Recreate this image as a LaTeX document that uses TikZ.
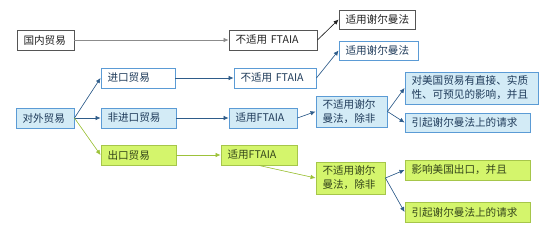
\documentclass[tikz,border=0pt]{standalone}
\usepackage{fontspec}
\setmainfont{Noto Sans CJK SC}
\usetikzlibrary{arrows.meta}
\definecolor{bborder}{HTML}{5B9BD5}
\definecolor{bfill}{HTML}{D3EBF6}
\definecolor{btext}{HTML}{1F3B5A}
\definecolor{gfill}{HTML}{D4F56C}
\definecolor{gborder}{HTML}{A6C64A}
\definecolor{gtext}{HTML}{34451A}
\definecolor{wborder}{HTML}{555555}
\definecolor{wtext}{HTML}{222222}
\definecolor{barrow}{HTML}{2E5C8A}
\definecolor{garrow}{HTML}{9DC23A}
\definecolor{grayarrow}{HTML}{8C8C8C}
\tikzset{
  box/.style={draw, line width=0.9pt, inner xsep=6.5pt, inner ysep=0pt, align=left,
    font=\fontsize{10.6}{14}\selectfont},
  wbox/.style={box, draw=wborder, fill=white, text=wtext},
  bwbox/.style={box, draw=bborder, fill=white, text=btext},
  bbox/.style={box, draw=bborder, fill=bfill, text=btext},
  gbox/.style={box, draw=gborder, fill=gfill, text=gtext},
  conn/.style={line width=0.6pt, -{Latex[length=5pt,width=4.5pt]}},
  bconn/.style={conn, draw=barrow, fill=barrow},
  gconn/.style={conn, draw=garrow, fill=garrow},
}
% \bx{style}{name}{x1}{y1}{x2}{y2}{text}
\newcommand{\bx}[7]{%
  \pgfmathsetmacro{\cx}{(#3+#5)/2}%
  \pgfmathsetmacro{\cy}{(#4+#6)/2}%
  \pgfmathsetmacro{\ww}{#5-#3}%
  \pgfmathsetmacro{\hh}{#6-#4}%
  \pgfmathsetmacro{\tw}{#5-#3-13}%
  \node[#1, minimum width=\ww pt, minimum height=\hh pt, text width=\tw pt] (#2) at (\cx,\cy) {#7};%
}
\begin{document}
\begin{tikzpicture}[x=1pt,y=-1pt]
\useasboundingbox (0,0) rectangle (554,242);
\bx{wbox}{dom}{17}{30}{74}{50}{国内贸易}
\bx{wbox}{dnf}{229}{30}{317}{50}{不适用 FTAIA}
\bx{wbox}{dsh}{339}{10}{415}{29}{适用谢尔曼法}
\bx{bbox}{for}{16}{108}{74}{128}{对外贸易}
\bx{bwbox}{imp}{101}{68}{175}{88}{进口贸易}
\bx{bwbox}{inf}{234}{68}{316}{88}{不适用 FTAIA}
\bx{bwbox}{ish}{339}{41}{418}{60}{适用谢尔曼法}
\bx{bbox}{nim}{101}{108}{176}{128}{非进口贸易}
\bx{bbox}{nft}{229}{108}{297}{128}{适用FTAIA}
\bx{bbox}{nsh}{316}{96}{387}{127}{不适用谢尔\\曼法，除非}
\bx{bbox}{neff}{405}{72}{538}{104}{对美国贸易有直接、实质\\性、可预见的影响，并且}
\bx{bbox}{ncl}{405}{113}{530}{132}{引起谢尔曼法上的请求}
\bx{gbox}{exp}{101}{145}{176}{165}{出口贸易}
\bx{gbox}{eft}{221}{145}{297}{165}{适用FTAIA}
\bx{gbox}{esh}{316}{162}{385}{194}{不适用谢尔\\曼法，除非}
\bx{gbox}{eeff}{405}{160}{530}{180}{影响美国出口，并且}
\bx{gbox}{ecl}{405}{202}{530}{222}{引起谢尔曼法上的请求}

\draw[conn, draw=grayarrow, fill=black] (dom.east) -- (dnf.west);
\draw[conn, draw=wtext, fill=wtext] (dnf.east) -- (dsh.west);
\draw[bconn] (for.east) -- (imp.west);
\draw[bconn] (for.east) -- (nim.west);
\draw[gconn] (for.east) -- (exp.west);
\draw[bconn] (imp.east) -- (inf.west);
\draw[bconn] (inf.east) -- (ish.west);
\draw[bconn] (nim.east) -- (nft.west);
\draw[bconn] (nft.east) -- (nsh.west);
\draw[bconn] (nsh.east) -- (neff.west);
\draw[bconn] (nsh.east) -- (ncl.west);
\draw[gconn] (exp.east) -- (eft.west);
\draw[gconn] (eft.south) -- (esh.west);
\draw[bconn] (esh.east) -- (eeff.west);
\draw[bconn] (esh.east) -- (ecl.west);
\end{tikzpicture}
\end{document}
